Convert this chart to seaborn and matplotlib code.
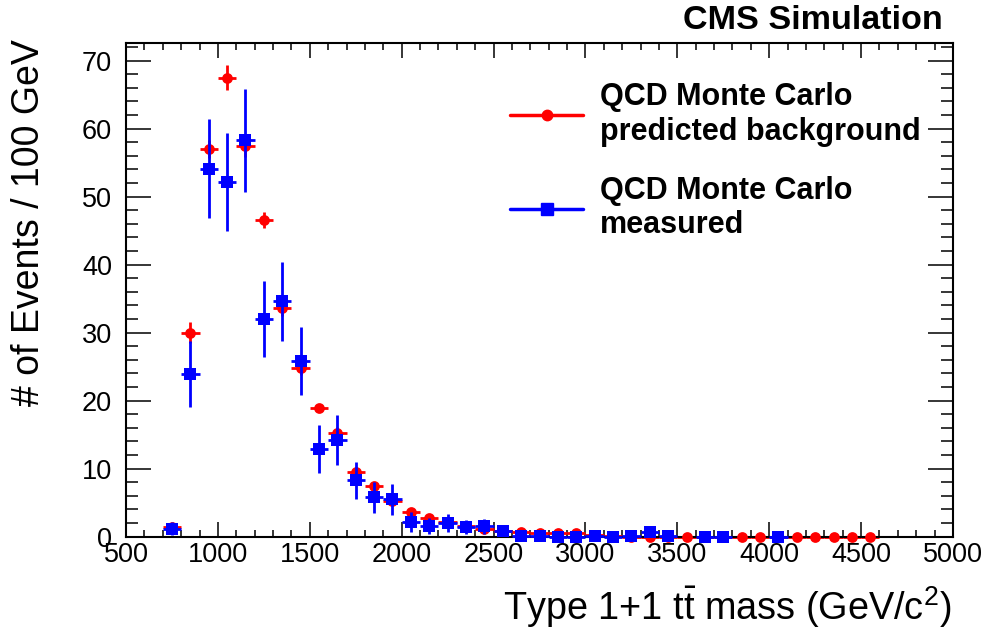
import numpy as np
import pandas as pd
import matplotlib
matplotlib.use("Agg")
import matplotlib.pyplot as plt
import matplotlib.ticker as mtick
from matplotlib.lines import Line2D
import seaborn as sns

# bin centres (100 GeV bins)
bins = [750, 850, 950, 1050, 1150, 1250, 1350, 1450, 1550, 1650,
        1750, 1850, 1950, 2050, 2150, 2250, 2350, 2450, 2550, 2650,
        2750, 2850, 2950, 3050, 3150, 3250, 3350, 3450, 3550, 3650,
        3750, 3850, 3950, 4050, 4150, 4250, 4350, 4450, 4550]

# QCD MC predicted background (red)
pred = [1.4, 30.0, 57.0, 67.5, 57.4, 46.6, 33.7, 24.8, 18.9, 15.3,
        9.5, 7.4, 5.3, 3.7, 2.8, 2.1, 1.5, 1.2, 0.9, 0.7,
        0.6, 0.5, 0.6, 0.2, 0.1, 0.0, 0.0, 0.0, 0.0, 0.0,
        0.0, 0.0, 0.0, 0.0, 0.0, 0.0, 0.0, 0.0, 0.0]
pred_err = [0.3, 1.5, 1.3, 1.8, 1.5, 1.2, 1.2, 1.0, 0.5, 0.8,
            0.7, 0.6, 0.5, 0.4, 0.4, 0.3, 0.3, 0.3, 0.2, 0.2,
            0.2, 0.2, 0.2, 0.1, 0.1, 0.0, 0.0, 0.0, 0.0, 0.0,
            0.0, 0.0, 0.0, 0.0, 0.0, 0.0, 0.0, 0.0, 0.0]

# QCD MC measured (blue); None = empty bin, not drawn
meas = [1.2, 23.9, 54.1, 52.2, 58.3, 32.0, 34.6, 25.8, 12.9, 14.2,
        8.3, 5.8, 5.5, 2.2, 1.6, 2.0, 1.4, 1.5, 0.9, 0.1,
        0.1, 0.0, 0.0, 0.1, 0.0, 0.1, 0.65, 0.1, None, 0.0,
        0.0, None, None, 0.0, None, None, None, None, None]
meas_err = [1.0, 4.9, 7.3, 7.2, 7.6, 5.6, 5.8, 5.0, 3.5, 3.7,
            2.7, 2.3, 2.3, 1.5, 1.2, 1.3, 1.0, 1.1, 0.6, 0.1,
            0.1, 0.0, 0.0, 0.1, 0.0, 0.1, 0.4, 0.1, None, 0.0,
            0.0, None, None, 0.0, None, None, None, None, None]

df = pd.DataFrame({"mass": bins, "pred": pred, "pred_err": pred_err,
                   "meas": meas, "meas_err": meas_err}).astype(float)
dfm = df.dropna(subset=["meas"])

sns.set_theme(style="ticks")
plt.rcParams["font.family"] = ["Liberation Sans", "DejaVu Sans"]
plt.rcParams["text.color"] = "black"
plt.rcParams["mathtext.fontset"] = "custom"
plt.rcParams["mathtext.rm"] = "Liberation Sans"
plt.rcParams["mathtext.it"] = "Liberation Sans:italic"
plt.rcParams["mathtext.bf"] = "Liberation Sans:bold"

fig = plt.figure(figsize=(9.91, 6.3), dpi=100)
ax = fig.add_axes([126 / 991, 1 - 536.7 / 630, 827 / 991, 493.7 / 630])

red = "#ff0000"
blue = "#0000ff"

ax.errorbar(df["mass"], df["pred"], xerr=50, yerr=df["pred_err"], fmt="none",
            ecolor=red, elinewidth=2.0, capsize=0, clip_on=False, zorder=2)
sns.scatterplot(data=df, x="mass", y="pred", ax=ax, marker="o", s=60,
                color=red, edgecolor=red, linewidth=0, clip_on=False, zorder=3)
ax.errorbar(dfm["mass"], dfm["meas"], xerr=50, yerr=dfm["meas_err"], fmt="none",
            ecolor=blue, elinewidth=2.0, capsize=0, clip_on=False, zorder=4)
sns.scatterplot(data=dfm, x="mass", y="meas", ax=ax, marker="s", s=66,
                color=blue, edgecolor=blue, linewidth=0, clip_on=False, zorder=5)

ax.set_xlim(500, 5000)
ax.set_ylim(0, 72.6)
ax.xaxis.set_major_locator(mtick.MultipleLocator(500))
ax.xaxis.set_minor_locator(mtick.MultipleLocator(100))
ax.yaxis.set_major_locator(mtick.MultipleLocator(10))
ax.yaxis.set_minor_locator(mtick.MultipleLocator(2))

ax.tick_params(axis="both", which="both", direction="in", top=True, right=True,
               color="black", width=1.1, labelsize=19.5, labelcolor="black")
ax.tick_params(axis="x", which="major", length=11, pad=4)
ax.tick_params(axis="x", which="minor", length=5)
ax.tick_params(axis="y", which="major", length=18, pad=10)
ax.tick_params(axis="y", which="minor", length=8.5)
for sp in ax.spines.values():
    sp.set_linewidth(1.5)
    sp.set_color("black")

ax.set_xlabel(r"Type 1+1 t$\bar{\rm t}$ mass (GeV/c$^{2}$)", fontsize=27.3,
              color="black", loc="right")
ax.set_ylabel("# of Events / 100 GeV", fontsize=27, color="black", loc="top")
ax.xaxis.set_label_coords(0.998, -0.097)
ax.yaxis.set_label_coords(-0.096, 1.008)

handles = [
    Line2D([], [], color=red, lw=2.5, marker="o", markersize=7.5),
    Line2D([], [], color=blue, lw=2.5, marker="s", markersize=8),
]
labels = ["QCD Monte Carlo\npredicted background", "QCD Monte Carlo\nmeasured"]
leg = ax.legend(handles, labels, loc="upper left",
                bbox_to_anchor=(510 / 991, 1 - 82 / 630), bbox_transform=fig.transFigure,
                frameon=False, borderpad=0, borderaxespad=0, handlelength=2.4,
                handletextpad=0.55, labelspacing=0.95,
                prop={"size": 22, "weight": "bold"})
for t in leg.get_texts():
    t.set_color("black")

fig.text(943 / 991, 1 - 29.3 / 630, "CMS Simulation", ha="right", va="baseline",
         fontsize=24.6, fontweight="bold", color="black")

fig.savefig("out.png", dpi=100)
